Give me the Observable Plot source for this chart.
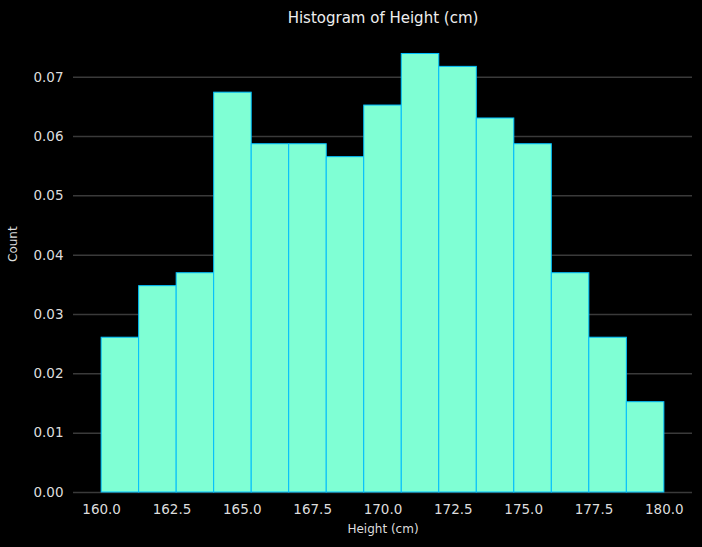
<!DOCTYPE html>
<html>
<head>
<meta charset="utf-8">
<script src="https://cdn.jsdelivr.net/npm/d3@7"></script>
<script src="https://cdn.jsdelivr.net/npm/@observablehq/plot@0.6"></script>
<style>
  html, body { margin: 0; padding: 0; background: #000; }
  #chart svg { display: block; }
</style>
</head>
<body>
<div id="chart"></div>
<script>
// Bin edges (cm)
const binStarts = [160, 161.3333, 162.6667, 164, 165.3333, 166.6667, 168, 169.3333, 170.6667, 172, 173.3333, 174.6667, 176, 177.3333, 178.6667];
const binEnds   = [161.3333, 162.6667, 164, 165.3333, 166.6667, 168, 169.3333, 170.6667, 172, 173.3333, 174.6667, 176, 177.3333, 178.6667, 180];
// Density values
const densities = [0.02609, 0.03478, 0.03696, 0.06739, 0.05870, 0.05870, 0.05652, 0.06522, 0.07391, 0.07174, 0.06304, 0.05870, 0.03696, 0.02609, 0.01522];
const yTicks = [0, 0.01, 0.02, 0.03, 0.04, 0.05, 0.06, 0.07];
const xTicks = [160, 162.5, 165, 167.5, 170, 172.5, 175, 177.5, 180];
const titleText = "Histogram of Height (cm)";
const xLabel = "Height (cm)";
const yLabel = "Count";

const bins = binStarts.map((s, i) => ({x1: s, x2: binEnds[i], y: densities[i]}));

const font = "DejaVu Sans, sans-serif";

const chart = Plot.plot({
  width: 702,
  height: 547,
  marginLeft: 73,
  marginRight: 10,
  marginTop: 31,
  marginBottom: 55,
  style: {background: "#000", color: "#ddd", fontFamily: font, fontSize: "13.5px"},
  x: {domain: [159, 181]},
  y: {domain: [0, 0.0777]},
  marks: [
    Plot.ruleY(yTicks, {x1: 159, x2: 181, stroke: "#3a3a3a", strokeWidth: 1.5}),
    Plot.rectY(bins, {x1: "x1", x2: "x2", y: "y", fill: "#7fffd4", stroke: "#00bfff", strokeWidth: 1, inset: 0}),
    Plot.axisY({ticks: yTicks, tickFormat: d3.format(".2f"), tickSize: 0, tickPadding: 10, label: null, fill: "#ddd", fontSize: 13.5}),
    Plot.axisX({ticks: xTicks, tickFormat: d3.format(".1f"), tickSize: 0, tickPadding: 12, label: null, fill: "#ddd", fontSize: 13.5}),
    Plot.text([titleText], {frameAnchor: "top", dy: -19, fill: "#eee", fontSize: 15}),
    Plot.text([xLabel], {frameAnchor: "bottom", dy: 40, fill: "#ddd", fontSize: 12}),
    Plot.text([yLabel], {frameAnchor: "left", dx: -60, rotate: -90, fill: "#ddd", fontSize: 12})
  ]
});
document.getElementById("chart").appendChild(chart);
</script>
</body>
</html>
